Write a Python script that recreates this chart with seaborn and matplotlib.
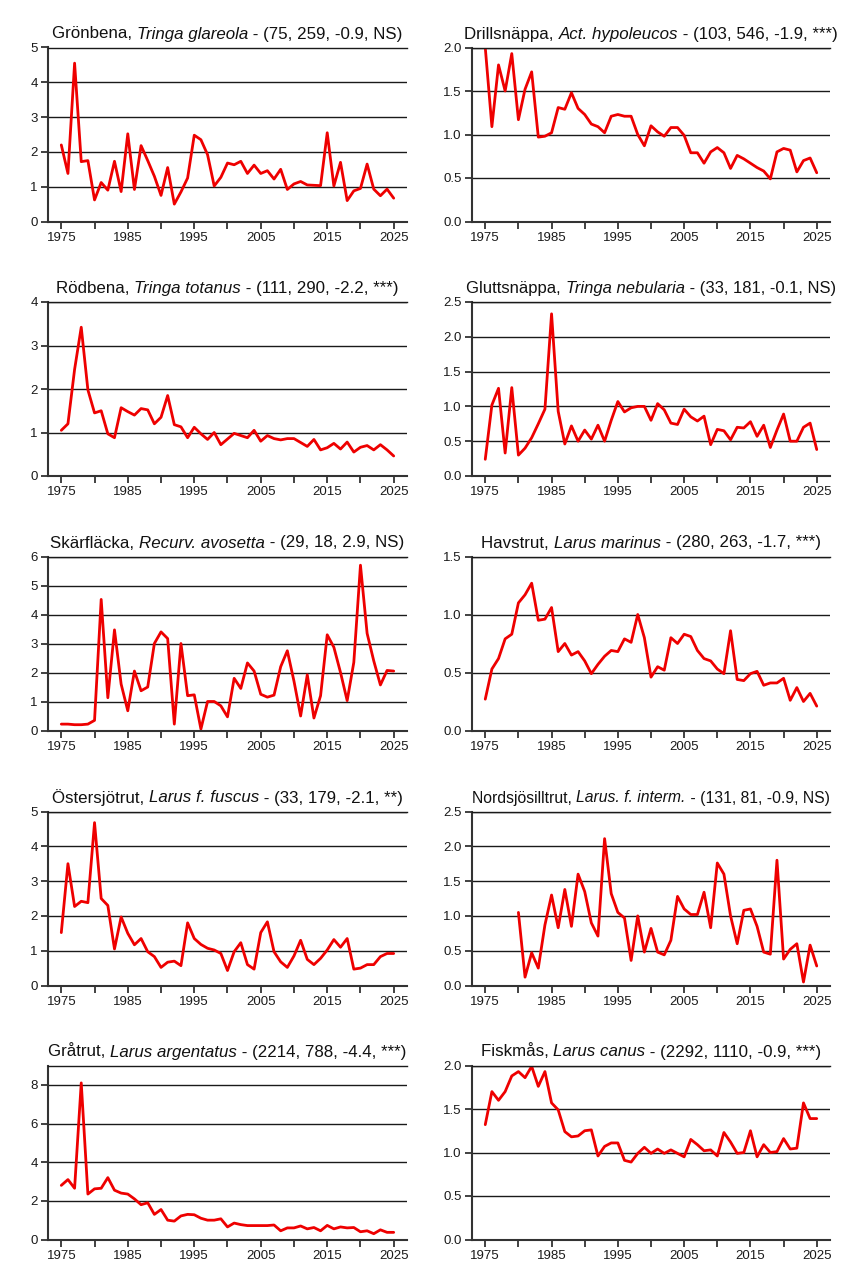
import numpy as np
import pandas as pd
import matplotlib
matplotlib.use("Agg")
import matplotlib.pyplot as plt
import seaborn as sns
from matplotlib.ticker import FixedLocator, FuncFormatter
from matplotlib.offsetbox import TextArea, HPacker, AnchoredOffsetbox

years = list(range(1975, 2026))

gronbena = [2.2, 1.38, 4.55, 1.72, 1.75, 0.62, 1.12, 0.9, 1.73, 0.86,
            2.52, 0.92, 2.18, 1.75, 1.3, 0.75, 1.55, 0.5, 0.85, 1.25,
            2.48, 2.35, 1.92, 1.02, 1.27, 1.68, 1.63, 1.73, 1.38, 1.62,
            1.38, 1.46, 1.22, 1.5, 0.92, 1.08, 1.15, 1.05, 1.04, 1.03,
            2.55, 1.02, 1.7, 0.6, 0.88, 0.95, 1.65, 0.93, 0.74, 0.93, 0.67]
drillsnappa = [2.0, 1.09, 1.8, 1.5, 1.93, 1.17, 1.52, 1.72, 0.97, 0.98,
               1.02, 1.31, 1.29, 1.48, 1.3, 1.23, 1.12, 1.09, 1.02, 1.21,
               1.23, 1.21, 1.21, 1.0, 0.87, 1.1, 1.03, 0.98, 1.08, 1.08,
               0.99, 0.79, 0.79, 0.67, 0.8, 0.85, 0.79, 0.61, 0.76, 0.72,
               0.67, 0.62, 0.58, 0.49, 0.8, 0.84, 0.82, 0.57, 0.7, 0.73, 0.56]
rodbena = [1.05, 1.2, 2.45, 3.42, 1.98, 1.45, 1.5, 0.97, 0.88, 1.57,
           1.48, 1.4, 1.55, 1.52, 1.2, 1.35, 1.85, 1.18, 1.13, 0.88,
           1.12, 0.97, 0.84, 1.0, 0.72, 0.85, 0.98, 0.93, 0.88, 1.05,
           0.8, 0.93, 0.86, 0.83, 0.86, 0.86, 0.77, 0.68, 0.84, 0.6,
           0.65, 0.75, 0.62, 0.78, 0.55, 0.66, 0.7, 0.6, 0.72, 0.6, 0.46]
gluttsnappa = [0.24, 1.02, 1.26, 0.33, 1.27, 0.3, 0.4, 0.55, 0.75, 0.96,
               2.33, 0.93, 0.46, 0.72, 0.5, 0.66, 0.53, 0.73, 0.5, 0.8,
               1.07, 0.92, 0.98, 1.0, 1.0, 0.8, 1.04, 0.95, 0.76, 0.74,
               0.96, 0.85, 0.79, 0.86, 0.45, 0.67, 0.65, 0.52, 0.7, 0.69,
               0.78, 0.57, 0.73, 0.41, 0.66, 0.89, 0.5, 0.5, 0.7, 0.76, 0.38]
skarflacka = [0.22, 0.22, 0.2, 0.2, 0.22, 0.35, 4.52, 1.13, 3.47, 1.6,
              0.68, 2.05, 1.37, 1.5, 3.0, 3.4, 3.17, 0.22, 3.0, 1.2,
              1.23, 0.05, 1.0, 1.0, 0.85, 0.47, 1.8, 1.45, 2.33, 2.05,
              1.25, 1.15, 1.22, 2.2, 2.75, 1.7, 0.5, 1.92, 0.43, 1.2,
              3.3, 2.87, 2.0, 1.03, 2.35, 5.7, 3.35, 2.4, 1.57, 2.07, 2.05]
havstrut = [0.27, 0.53, 0.62, 0.79, 0.83, 1.1, 1.17, 1.27, 0.95, 0.96,
            1.06, 0.68, 0.75, 0.65, 0.68, 0.6, 0.49, 0.57, 0.64, 0.69,
            0.68, 0.79, 0.76, 1.0, 0.8, 0.46, 0.55, 0.52, 0.8, 0.75,
            0.83, 0.81, 0.69, 0.62, 0.6, 0.53, 0.49, 0.86, 0.44, 0.43,
            0.49, 0.51, 0.39, 0.41, 0.41, 0.45, 0.26, 0.37, 0.25, 0.32, 0.21]
ostersjotrut = [1.52, 3.5, 2.27, 2.42, 2.38, 4.68, 2.5, 2.3, 1.05, 1.97,
                1.5, 1.17, 1.35, 0.97, 0.83, 0.52, 0.67, 0.7, 0.57, 1.8,
                1.35, 1.18, 1.07, 1.02, 0.92, 0.43, 0.97, 1.23, 0.6, 0.47,
                1.52, 1.83, 0.97, 0.68, 0.52, 0.85, 1.3, 0.75, 0.6, 0.78,
                1.02, 1.32, 1.1, 1.35, 0.47, 0.5, 0.6, 0.6, 0.83, 0.92, 0.92]
nordsjosilltrut = [None, None, None, None, None,
                   1.05, 0.12, 0.47, 0.25, 0.87, 1.3, 0.83, 1.38, 0.85, 1.6,
                   1.35, 0.9, 0.71, 2.11, 1.32, 1.05, 0.97, 0.36, 1.0, 0.48,
                   0.82, 0.48, 0.44, 0.65, 1.28, 1.1, 1.02, 1.02, 1.34, 0.83,
                   1.76, 1.6, 1.0, 0.6, 1.08, 1.1, 0.85, 0.48, 0.45, 1.8,
                   0.38, 0.52, 0.6, 0.05, 0.58, 0.28]
gratrut = [2.8, 3.1, 2.65, 8.1, 2.35, 2.62, 2.65, 3.2, 2.55, 2.4,
           2.35, 2.1, 1.8, 1.9, 1.3, 1.55, 1.0, 0.95, 1.22, 1.3,
           1.28, 1.1, 1.0, 1.0, 1.07, 0.65, 0.85, 0.77, 0.72, 0.72,
           0.72, 0.72, 0.75, 0.45, 0.6, 0.6, 0.7, 0.55, 0.62, 0.45,
           0.73, 0.55, 0.65, 0.6, 0.62, 0.4, 0.45, 0.3, 0.5, 0.37, 0.37]
fiskmas = [1.32, 1.7, 1.6, 1.7, 1.88, 1.93, 1.86, 1.99, 1.76, 1.93,
           1.57, 1.49, 1.24, 1.18, 1.19, 1.25, 1.26, 0.96, 1.07, 1.11,
           1.11, 0.91, 0.89, 0.99, 1.06, 0.99, 1.04, 0.99, 1.03, 0.99,
           0.95, 1.15, 1.09, 1.02, 1.03, 0.96, 1.23, 1.12, 0.99, 1.0,
           1.25, 0.95, 1.09, 1.0, 1.01, 1.16, 1.04, 1.05, 1.57, 1.39, 1.39]

titles = [
    ("Grönbena, ", "Tringa glareola", " - (75, 259, -0.9, NS)"),
    ("Drillsnäppa, ", "Act. hypoleucos", " - (103, 546, -1.9, ***)"),
    ("Rödbena, ", "Tringa totanus", " - (111, 290, -2.2, ***)"),
    ("Gluttsnäppa, ", "Tringa nebularia", " - (33, 181, -0.1, NS)"),
    ("Skärfläcka, ", "Recurv. avosetta", " - (29, 18, 2.9, NS)"),
    ("Havstrut, ", "Larus marinus", " - (280, 263, -1.7, ***)"),
    ("Östersjötrut, ", "Larus f. fuscus", " - (33, 179, -2.1, **)"),
    ("Nordsjösilltrut, ", "Larus. f. interm.", " - (131, 81, -0.9, NS)"),
    ("Gråtrut, ", "Larus argentatus", " - (2214, 788, -4.4, ***)"),
    ("Fiskmås, ", "Larus canus", " - (2292, 1110, -0.9, ***)"),
]
series = [gronbena, drillsnappa, rodbena, gluttsnappa, skarflacka,
          havstrut, ostersjotrut, nordsjosilltrut, gratrut, fiskmas]
ymax = [5, 2.0, 4, 2.5, 6, 1.5, 5, 2.5, 9, 2.0]
ystep = [1, 0.5, 1, 0.5, 1, 0.5, 1, 0.5, 2, 0.5]
ydec = [0, 1, 0, 1, 0, 1, 0, 1, 0, 1]
xticks = list(range(1975, 2026, 5))
xlabels = ["1975", "", "1985", "", "1995", "", "2005", "", "2015", "", "2025"]

sns.set_style("white")
plt.rcParams['font.family'] = ['Liberation Sans', 'DejaVu Sans']

W, H = 848, 1272
fig = plt.figure(figsize=(W / 100, H / 100), dpi=100)
lefts = [48, 472]
widths = [359, 358]
tops = [47.5, 302, 556.5, 811.5, 1065.5]
ah = 174
TFS = [12.2, 12.2, 12.2, 12.0, 12.2, 12.2, 12.2, 11.3, 12.2, 12.2]

for i in range(10):
    r, c = divmod(i, 2)
    ax = fig.add_axes([lefts[c] / W, 1 - (tops[r] + ah) / H, widths[c] / W, ah / H])
    df = pd.DataFrame({"year": years, "value": series[i]}).dropna()
    df["value"] = df["value"].astype(float)
    sns.lineplot(data=df, x="year", y="value", ax=ax, color="#ee0000", lw=2.0)
    ax.set_xlim(1973, 2027)
    ax.set_ylim(0, ymax[i])
    yt = list(np.arange(0, ymax[i] + 1e-9, ystep[i]))
    yt = [t for t in yt if t <= ymax[i] - (0.5 if i == 8 else 0) + 1e-9]
    ax.yaxis.set_major_locator(FixedLocator(yt))
    d = ydec[i]
    ax.yaxis.set_major_formatter(FuncFormatter(lambda v, p, d=d: f"{v:.{d}f}"))
    ax.xaxis.set_major_locator(FixedLocator(xticks))
    ax.set_xticklabels(xlabels)
    ax.set_xlabel("")
    ax.set_ylabel("")
    ax.grid(False)
    for t in yt:
        if t > 0:
            ax.axhline(t, color="#1a1a1a", lw=1.0, zorder=0.5)
    ax.spines['right'].set_visible(False)
    ax.spines['top'].set_visible(True)
    ax.spines['top'].set_color("#1a1a1a")
    ax.spines['top'].set_linewidth(1.0)
    for s in ['left', 'bottom']:
        ax.spines[s].set_color("#333333")
        ax.spines[s].set_linewidth(1.5)
    ax.tick_params(axis='both', which='major', direction='out', length=5,
                   width=1.3, color="#333333", labelsize=9.5, labelcolor="#1a1a1a",
                   left=True, bottom=True, pad=2.5)
    a, b, e = titles[i]
    props = dict(fontsize=TFS[i], color="#111111")
    parts = [TextArea(a, textprops=props),
             TextArea(b, textprops=dict(props, style="italic")),
             TextArea(e, textprops=props)]
    box = HPacker(children=parts, align="baseline", pad=0, sep=0)
    anch = AnchoredOffsetbox(loc="lower center", child=box, pad=0, borderpad=0,
                             frameon=False, bbox_to_anchor=(0.5, 1.0 + 6.0 / ah),
                             bbox_transform=ax.transAxes)
    ax.add_artist(anch)

fig.savefig("out.png", dpi=100)
